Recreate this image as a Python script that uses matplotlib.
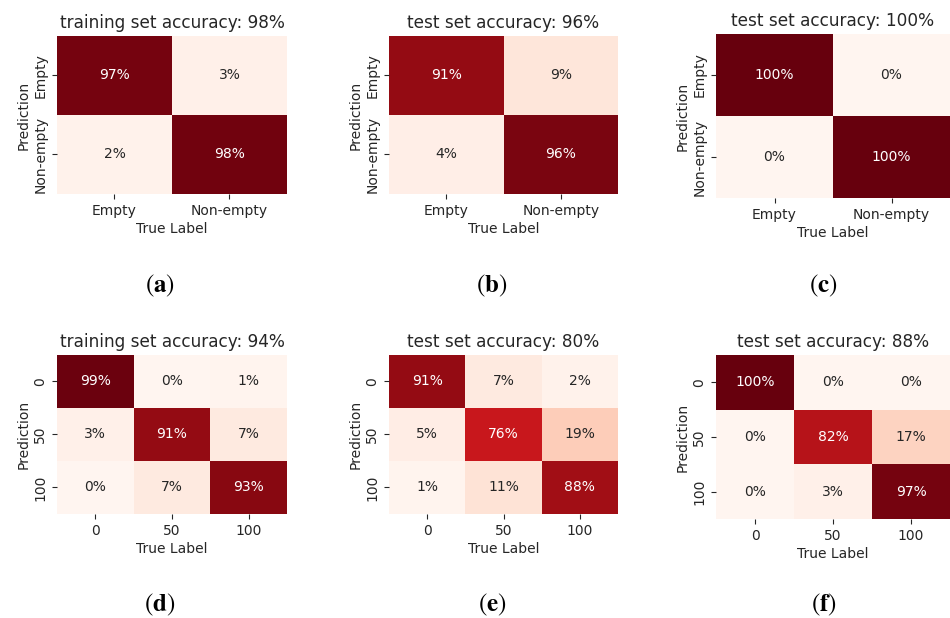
import numpy as np
import matplotlib
matplotlib.use("Agg")
import matplotlib.pyplot as plt
import seaborn as sns

# Confusion matrices (row = prediction, column = true label), in percent
binary_labels = ["Empty", "Non-empty"]
level_labels = ["0", "50", "100"]

cm_a = [[97, 3], [2, 98]]
cm_b = [[91, 9], [4, 96]]
cm_c = [[100, 0], [0, 100]]
cm_d = [[99, 0, 1], [3, 91, 7], [0, 7, 93]]
cm_e = [[91, 7, 2], [5, 76, 19], [1, 11, 88]]
cm_f = [[100, 0, 0], [0, 82, 17], [0, 3, 97]]

titles = [
    "training set accuracy: 98%",
    "test set accuracy: 96%",
    "test set accuracy: 100%",
    "training set accuracy: 94%",
    "test set accuracy: 80%",
    "test set accuracy: 88%",
]
panel_tags = ["a", "b", "c", "d", "e", "f"]

plt.rcParams["font.family"] = ["DejaVu Sans"]
plt.rcParams["mathtext.fontset"] = "stix"
plt.rcParams["text.color"] = ".15"
plt.rcParams["axes.labelcolor"] = ".15"
plt.rcParams["xtick.color"] = ".15"
plt.rcParams["ytick.color"] = ".15"

fig = plt.figure(figsize=(9.5, 6.18), dpi=100)

# axes rectangles [left, bottom, width, height] in figure fraction
rects = [
    [0.0600, 0.6861, 0.2421, 0.2557],
    [0.4095, 0.6861, 0.2411, 0.2557],
    [0.7537, 0.6796, 0.2463, 0.2654],
    [0.0600, 0.1683, 0.2421, 0.2573],
    [0.4095, 0.1683, 0.2411, 0.2573],
    [0.7537, 0.1602, 0.2463, 0.2654],
]
tag_pos = [(0.1684, 0.538), (0.518, 0.538), (0.867, 0.538),
           (0.1684, 0.021), (0.518, 0.021), (0.867, 0.021)]

matrices = [cm_a, cm_b, cm_c, cm_d, cm_e, cm_f]
ticklabels = [binary_labels] * 3 + [level_labels] * 3

for cm, title, rect, labels, tag, tp in zip(matrices, titles, rects, ticklabels,
                                            panel_tags, tag_pos):
    ax = fig.add_axes(rect)
    data = np.array(cm, dtype=float)
    annot = np.array([[f"{int(v)}%" for v in row] for row in cm])
    sns.heatmap(data, ax=ax, cmap="Reds", vmin=0, vmax=100, cbar=False,
                annot=annot, fmt="", annot_kws={"fontsize": 10},
                xticklabels=labels, yticklabels=labels, square=False)
    ax.set_title(title, fontsize=12.2, pad=6, color=".15")
    ax.set_xlabel("True Label", fontsize=10, labelpad=3)
    ax.set_ylabel("Prediction", fontsize=10, labelpad=2)
    ax.tick_params(axis="both", labelsize=10, length=3.5, width=0.8)
    plt.setp(ax.get_yticklabels(), rotation=90, va="center")
    plt.setp(ax.get_xticklabels(), rotation=0)
    fig.text(tp[0], tp[1], rf"($\mathbf{{{tag}}}$)", ha="center", va="center",
             fontsize=18, family="STIXGeneral", color="black")

fig.savefig("out.png", dpi=100)
